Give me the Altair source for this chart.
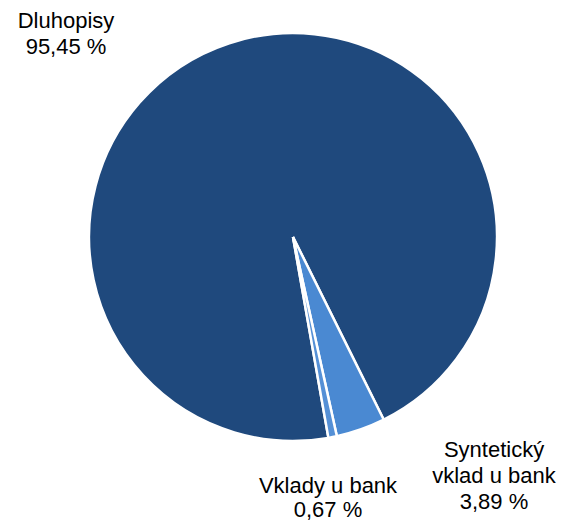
import math
import altair as alt
import pandas as pd

categories = ["Dluhopisy", "Syntetický vklad u bank", "Vklady u bank"]
values = [95.45, 3.89, 0.67]
label_lines = [["Dluhopisy", "95,45 %"], ["Syntetický", "vklad u bank", "3,89 %"], ["Vklady u bank", "0,67 %"]]
colors = ["#1F497D", "#4A89D2", "#5590D6"]

df = pd.DataFrame({"cat": categories, "value": values, "idx": list(range(len(values)))})

start = math.radians(170.0)
W, H = 552, 515
CX, CY, R = 285, 229, 204

pie = alt.Chart(df).mark_arc(radius=R, stroke="white", strokeWidth=2.5).encode(
    theta=alt.Theta("value:Q", stack=True, scale=alt.Scale(range=[start, start + 2 * math.pi])),
    color=alt.Color("cat:N", scale=alt.Scale(domain=categories, range=colors), legend=None),
    order=alt.Order("idx:Q"),
    x=alt.value(CX),
    y=alt.value(CY),
)

label_pos = [(58, 20, 26), (486, 449, 26), (320, 485, 24)]
layers = [pie]
for lines, (lx, ly, lh) in zip(label_lines, label_pos):
    ldf = pd.DataFrame({"t": ["\n".join(lines)]})
    layers.append(
        alt.Chart(ldf).mark_text(
            font="Liberation Sans", fontSize=22, align="center", baseline="alphabetic",
            lineBreak="\n", lineHeight=lh, color="#000000"
        ).encode(text="t:N", x=alt.value(lx), y=alt.value(ly))
    )

chart = alt.layer(*layers).properties(
    width=W, height=H, padding=0, autosize=alt.AutoSizeParams(type="none")
).configure_view(stroke=None)

chart.save("out.html", embed_options={"renderer": "svg", "actions": False})
